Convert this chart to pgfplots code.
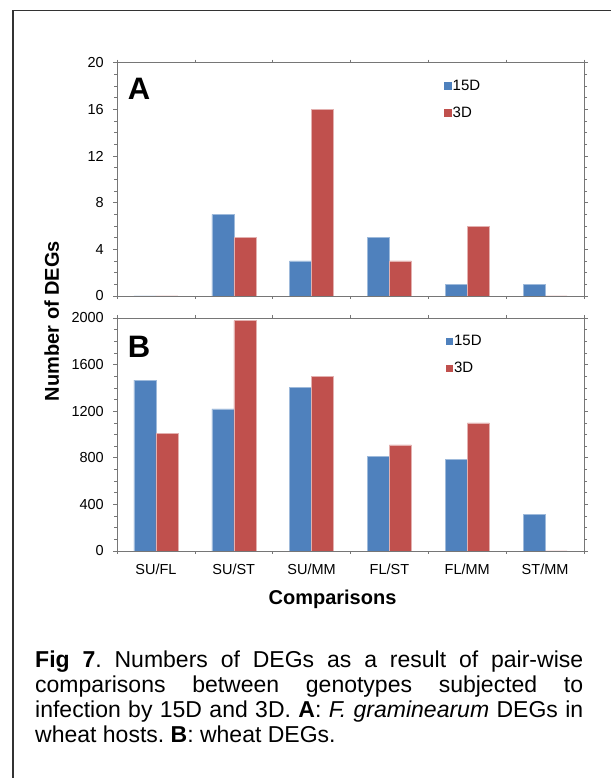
\documentclass[border=0pt]{standalone}
\usepackage{pgfplots}
\pgfplotsset{compat=1.18}
\usepackage{fontspec}
\setmainfont{Liberation Sans}
\definecolor{xblue}{HTML}{4F81BD}
\definecolor{xred}{HTML}{C0504D}
\definecolor{axgray}{HTML}{767676}
\definecolor{framec}{HTML}{333333}
\frenchspacing

\pgfplotsset{
  mybase/.style={
    scale only axis, width=467pt,
    xmin=0.5, xmax=6.5,
    xtick={1,...,6},
    major x tick style={draw=none},
    minor xtick={0.5,1.5,...,6.5},
    minor y tick num=3,
    tick align=outside,
    major tick length=4pt, minor tick length=3pt,
    tick style={draw=axgray, line width=0.6pt},
    axis line style={draw=axgray, line width=0.8pt},
    ymin=0,
    ybar=0pt, bar width=22pt,
    /pgf/number format/assume math mode=true,
    /pgf/number format/1000 sep={},
    ticklabel style={font=\fontsize{14.5}{17}\selectfont, inner sep=0pt, text=black},
    yticklabel style={anchor=east, xshift=-9pt},
    xticklabel style={anchor=north, yshift=-9pt},
    axis on top,
    legend style={draw=none, fill=none, anchor=north west,
      font=\fontsize{15}{18}\selectfont, row sep=13pt, inner sep=0pt,
      nodes={inner sep=1pt}},
    legend cell align=left,
    legend image code/.code={\fill[##1, draw=none] (0pt,-3.8pt) rectangle (7.6pt,3.8pt);},
  },
  bluebar/.style={fill=xblue, draw=xblue!55!white, line width=0.5pt},
  redbar/.style={fill=xred, draw=xred!45!white, line width=0.5pt},
}

\begin{document}
\begin{tikzpicture}[x=1pt,y=1pt]
\path[use as bounding box] (0,0) rectangle (610,778);
\draw[framec, line width=1.6pt] (13,-5) -- (13,767.3) -- (620,767.3);

% Panel A
\begin{axis}[mybase, at={(117pt,482pt)}, anchor=south west, height=233.3pt,
  ymax=20, ytick={0,4,...,20}, xticklabels={},
  legend style={at={(0.700,0.930)}}]
\addplot[bluebar] coordinates {(1,0) (2,7) (3,3) (4,5) (5,1) (6,1)};
\addplot[redbar] coordinates {(1,0) (2,5) (3,16) (4,3) (5,6) (6,0)};
\legend{15D,3D}
\node[font=\fontsize{31}{31}\bfseries, inner sep=0pt] at (rel axis cs:0.0471,0.889) {A};
\end{axis}

% Panel B
\begin{axis}[mybase, at={(117pt,227pt)}, anchor=south west, height=233pt,
  ymax=2000, ytick={0,400,...,2000},
  xticklabels={SU/FL,SU/ST,SU/MM,FL/ST,FL/MM,ST/MM},
  legend style={at={(0.703,0.930)}}]
\addplot[bluebar] coordinates {(1,1466) (2,1220) (3,1403) (4,815) (5,789) (6,316)};
\addplot[redbar] coordinates {(1,1010) (2,1977) (3,1501) (4,910) (5,1099) (6,0)};
\legend{15D,3D}
\node[font=\fontsize{31}{31}\bfseries, inner sep=0pt] at (rel axis cs:0.0471,0.877) {B};
\end{axis}

\node[rotate=90, font=\fontsize{20}{22}\bfseries, inner sep=0pt] at (51.7,457) {Number of DEGs};
\node[anchor=base, font=\fontsize{20}{22}\bfseries, inner sep=0pt] at (332.5,173.5) {Comparisons};

\node[anchor=base west, inner sep=0pt] at (35,110) {\parbox[t]{548pt}{\fontsize{23}{24.8}\selectfont
\textbf{Fig 7}. Numbers of DEGs as a result of pair-wise\linebreak
comparisons between genotypes subjected to\linebreak
infection by 15D and 3D. \textbf{A}: \textit{F. graminearum} DEGs in\linebreak
wheat hosts. \textbf{B}: wheat DEGs.}};
\end{tikzpicture}
\end{document}
